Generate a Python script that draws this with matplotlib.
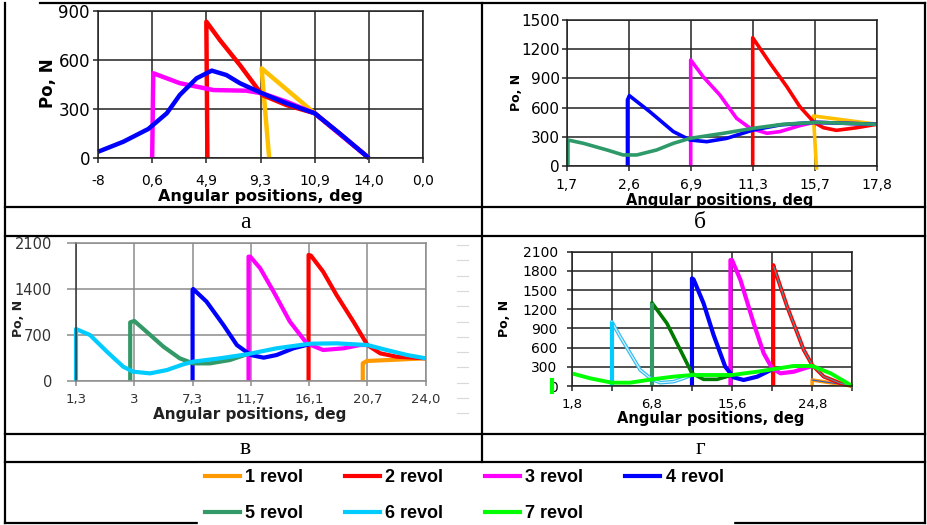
import numpy as np
import matplotlib
matplotlib.use('Agg')
import matplotlib.pyplot as plt
from matplotlib.lines import Line2D
from matplotlib.patches import Rectangle

plt.rcParams['font.family'] = ['DejaVu Sans']

W, H = 927, 525

# colours of the revolutions
COLORS = {1: '#FF9900', 2: '#FF0000', 3: '#FF00FF', 4: '#0000FF',
          5: '#339966', 6: '#00CCFF', 7: '#00FF00'}
GOLD = '#FFC000'

# ---- panel a ----
a_ticks = ['-8', '0,6', '4,9', '9,3', '10,9', '14,0', '0,0']
a_r1_x = [3.16, 3.02, 4.0, 5.0]
a_r1_y = [0, 549, 274, 0]
a_r2_x = [2.02, 2.0, 2.25, 2.62, 3.03, 3.48, 4.0, 5.0]
a_r2_y = [0, 835, 722, 569, 386, 324, 274, 0]
a_r3_x = [1.0, 1.02, 1.51, 2.13, 2.74, 3.03, 3.48, 4.0, 5.0]
a_r3_y = [0, 519, 458, 416, 412, 396, 345, 274, 0]
a_r4_x = [0.0, 0.47, 0.93, 1.27, 1.51, 1.82, 2.10, 2.37, 2.62, 3.03, 3.48, 4.0, 4.46, 5.0]
a_r4_y = [38, 100, 178, 274, 386, 488, 535, 508, 458, 396, 335, 274, 151, 0]

# ---- panel b ----
b_ticks = ['1,7', '2,6', '6,9', '11,3', '15,7', '17,8']
b_r1_x = [4.03, 3.98, 5.0]
b_r1_y = [-35, 515, 430]
b_r2_x = [3.0, 3.0, 3.28, 3.55, 3.76, 3.99, 4.14, 4.35, 4.68, 5.0]
b_r2_y = [0, 1316, 1054, 815, 610, 450, 395, 368, 395, 430]
b_r3_x = [2.0, 2.0, 2.20, 2.47, 2.74, 2.96, 3.23, 3.44, 3.76, 3.99, 5.0]
b_r3_y = [0, 1088, 917, 730, 491, 389, 338, 355, 416, 450, 430]
b_r4_x = [0.98, 0.98, 1.01, 1.34, 1.72, 1.99, 2.26, 2.58, 3.01, 3.44, 3.99, 5.0]
b_r4_y = [0, 679, 723, 559, 355, 269, 252, 286, 372, 423, 450, 430]
b_r5_x = [0.02, 0.02, 0.27, 0.65, 0.91, 1.13, 1.45, 1.72, 1.99, 2.53, 3.01, 3.49, 4.03, 5.0]
b_r5_y = [0, 269, 235, 167, 116, 116, 167, 235, 286, 338, 389, 430, 450, 430]

# ---- panel v ----
v_ticks = ['1,3', '3', '7,3', '11,7', '16,1', '20,7', '24,0']
v_r1_x = [4.92, 4.92, 4.99, 6.0]
v_r1_y = [0, 265, 301, 342]
v_r2_x = [3.99, 3.99, 4.03, 4.24, 4.47, 4.76, 5.0, 5.22, 5.50, 6.0]
v_r2_y = [0, 1922, 1912, 1667, 1310, 902, 545, 418, 367, 342]
v_r3_x = [2.96, 2.96, 2.99, 3.16, 3.39, 3.67, 3.96, 4.24, 4.59, 4.87, 5.0]
v_r3_y = [0, 1896, 1896, 1718, 1361, 902, 571, 469, 495, 545, 545]
v_r4_x = [2.0, 2.0, 2.01, 2.24, 2.53, 2.76, 3.0, 3.22, 3.44, 3.73, 4.0]
v_r4_y = [0, 1387, 1402, 1208, 851, 545, 392, 352, 392, 495, 556]
v_r5_x = [0.93, 0.93, 1.0, 1.21, 1.50, 1.78, 2.01, 2.30, 2.64, 2.93]
v_r5_y = [0, 892, 913, 749, 520, 342, 265, 265, 316, 403]
v_r6_x = [0.0, 0.0, 0.24, 0.53, 0.81, 0.98, 1.27, 1.56, 1.84, 2.01, 2.47, 2.93,
          3.44, 4.02, 4.47, 5.0, 5.33, 5.68, 6.0]
v_r6_y = [0, 790, 698, 444, 214, 138, 112, 163, 250, 291, 342, 403,
          495, 566, 571, 545, 469, 393, 342]

# ---- panel g ----
g_ticks = ['1,8', '', '6,8', '', '15,6', '', '24,8', '']
g_r1_x = [6.0, 6.0, 7.0]
g_r1_y = [0, 94, 0]
g_r2_x = [5.03, 5.03, 5.04, 5.375, 5.79, 6.0, 6.29, 6.71, 7.0]
g_r2_y = [0, 1891, 1865, 1240, 563, 328, 146, 42, 0]
g_r3_x = [3.96, 3.96, 4.0, 4.21, 4.54, 4.79, 5.0, 5.21, 5.54, 6.0]
g_r3_y = [0, 1969, 1969, 1657, 979, 511, 276, 198, 224, 313]
g_r4_x = [3.0, 3.0, 3.04, 3.29, 3.54, 3.83, 4.04, 4.29, 4.63, 5.0]
g_r4_y = [0, 1683, 1667, 1292, 797, 302, 135, 94, 146, 260]
g_r5_x = [2.0, 2.0, 2.375, 2.71, 3.0, 3.29, 3.63, 4.0]
g_r5_y = [0, 1302, 980, 563, 198, 104, 104, 172]
g_r6_x = [1.0, 1.0, 1.21, 1.46, 1.71, 2.0, 2.21, 2.54, 2.79, 3.0]
g_r6_y = [0, 1005, 771, 511, 250, 104, 52, 68, 120, 172]
g_r7_x = [0, 0.46, 1.0, 1.46, 2.0, 2.54, 3.0, 4.0, 4.63, 5.0, 5.54, 6.0, 6.46, 7.0]
g_r7_y = [198, 120, 52, 52, 104, 146, 172, 172, 224, 260, 313, 313, 198, 0]

legend_labels = ['1 revol', '2 revol', '3 revol', '4 revol', '5 revol', '6 revol', '7 revol']


def fx(px):
    return px / W


def fy(py):
    return 1 - py / H


def add_axes(x0, y0, x1, y1):
    return fig.add_axes([fx(x0), fy(y1), (x1 - x0) / W, (y1 - y0) / H])


def style(ax, ticks, ymax, ystep, gc, fsx, fsy, xpad, ypad, tlen=3.6, tc='black'):
    ax.set_xlim(0, len(ticks) - 1)
    ax.set_ylim(0, ymax)
    ax.set_xticks(range(len(ticks)))
    ax.set_xticklabels(ticks)
    ax.set_yticks(np.arange(0, ymax + 1, ystep))
    ax.grid(True, color=gc, lw=1.1)
    ax.set_axisbelow(True)
    ax.tick_params(axis='x', direction='out', length=3.6, width=1.1, color=gc,
                   labelsize=fsx, pad=xpad, labelcolor=tc)
    ax.tick_params(axis='y', direction='out', length=tlen, width=1.1, color=gc,
                   labelsize=fsy, pad=ypad, labelcolor=tc)
    for s in ax.spines.values():
        s.set_color(gc)
        s.set_linewidth(1.1)


def line(ax, x, y, c, lw):
    ax.plot(x, y, color=c, lw=lw, solid_joinstyle='round', solid_capstyle='butt',
            clip_on=False)


def fig_hline(y, x0, x1, lw=1.6, c='black'):
    fig.add_artist(Line2D([fx(x0), fx(x1)], [fy(y), fy(y)], color=c, lw=lw))


def fig_vline(x, y0, y1, lw=1.6, c='black'):
    fig.add_artist(Line2D([fx(x), fx(x)], [fy(y0), fy(y1)], color=c, lw=lw))


fig = plt.figure(figsize=(W / 100, H / 100), dpi=100)

# table frame
fig_hline(3, 40, 925)
fig_hline(207, 5, 925)
fig_hline(236, 5, 925)
fig_hline(434, 5, 925)
fig_hline(462, 5, 925)
fig_hline(523, 5, 925)
fig_vline(5, 3, 523)
fig_vline(925, 3, 523)
fig_vline(482, 3, 462)

# panel a
ax = add_axes(98, 11, 423, 158)
style(ax, a_ticks, 900, 300, '#222222', 10, 12, 8, 2.2)
line(ax, a_r1_x, a_r1_y, GOLD, 3.2)
line(ax, a_r2_x, a_r2_y, COLORS[2], 3.2)
line(ax, a_r3_x, a_r3_y, COLORS[3], 3.2)
line(ax, a_r4_x, a_r4_y, COLORS[4], 3.2)
fig.text(fx(260), fy(197), 'Angular positions, deg', fontsize=11.5, fontweight='bold',
         ha='center', va='center')
fig.text(fx(48), fy(83), 'Po, N', fontsize=12, fontweight='bold', rotation=90,
         ha='center', va='center')

# panel b
ax = add_axes(566.7, 19.7, 876.7, 166.3)
style(ax, b_ticks, 1500, 300, '#222222', 10, 11, 5, 1.5)
line(ax, b_r1_x, b_r1_y, GOLD, 2.6)
line(ax, b_r2_x, b_r2_y, COLORS[2], 2.6)
line(ax, b_r3_x, b_r3_y, COLORS[3], 2.6)
line(ax, b_r4_x, b_r4_y, COLORS[4], 2.6)
line(ax, b_r5_x, b_r5_y, '#2E9A6A', 2.6)
fig.text(fx(720), fy(200), 'Angular positions, deg', fontsize=10.5, fontweight='bold',
         ha='center', va='center')
fig.text(fx(517), fy(92), 'Po, N', fontsize=9, fontweight='bold', rotation=90,
         ha='center', va='center')

# panel v
ax = add_axes(76, 243.3, 425.7, 380.7)
style(ax, v_ticks, 2100, 700, '#8C8C8C', 9.5, 10.5, 5.1, 10.8, tlen=6.5, tc='#333333')
ax.spines['left'].set_color('#333333')
line(ax, v_r1_x, v_r1_y, COLORS[1], 3)
line(ax, v_r2_x, v_r2_y, COLORS[2], 3)
line(ax, v_r3_x, v_r3_y, COLORS[3], 3)
line(ax, v_r4_x, v_r4_y, COLORS[4], 3)
line(ax, v_r5_x, v_r5_y, COLORS[5], 3)
line(ax, v_r6_x, v_r6_y, COLORS[6], 3)
fig.text(fx(250), fy(415), 'Angular positions, deg', fontsize=11, fontweight='bold',
         ha='center', va='center', color='#222222')
fig.text(fx(19), fy(318), 'Po, N', fontsize=9, fontweight='bold', rotation=90,
         ha='center', va='center', color='#222222')
# leftover ticks of a hidden axis to the right of the chart
for yy in np.arange(245, 420, 15.3):
    fig_hline(yy, 457, 468, lw=0.8, c='#D9D9D9')

# panel g
ax = add_axes(571.7, 251.7, 852.3, 386)
style(ax, g_ticks, 2100, 300, '#222222', 9.5, 10, 4.9, 6.5)
line(ax, g_r1_x, g_r1_y, COLORS[1], 2.6)
ax.plot(g_r1_x[1:], g_r1_y[1:], color='#3355CC', lw=0.8, clip_on=False)
line(ax, g_r2_x, g_r2_y, COLORS[2], 2.8)
ax.plot(g_r2_x[2:], g_r2_y[2:], color='#4F8F9A', lw=0.9, clip_on=False)
line(ax, g_r3_x, g_r3_y, COLORS[3], 3)
line(ax, g_r4_x, g_r4_y, COLORS[4], 3)
line(ax, g_r5_x, g_r5_y, '#007A00', 2.6)
line(ax, g_r5_x[:2], g_r5_y[:2], COLORS[5], 3)
line(ax, g_r6_x, g_r6_y, '#33BBEE', 2.6)
ax.plot(g_r6_x[1:], g_r6_y[1:], color='#D8F4FF', lw=0.9, clip_on=False)
line(ax, g_r6_x[:2], g_r6_y[:2], COLORS[6], 3)
line(ax, g_r7_x, g_r7_y, COLORS[7], 2.8)
fig_vline(551.5, 380, 392, lw=3, c=COLORS[7])
fig.text(fx(711), fy(419), 'Angular positions, deg', fontsize=10.5, fontweight='bold',
         ha='center', va='center')
fig.text(fx(504), fy(318), 'Po, N', fontsize=9, fontweight='bold', rotation=90,
         ha='center', va='center')

# panel letters
serif = ['Liberation Serif', 'DejaVu Serif']
for px, py, s in [(245, 222, 'а'), (700, 222, 'б'), (245, 449, 'в'), (700, 449, 'г')]:
    fig.text(fx(px), fy(py), s, fontsize=17, family=serif, ha='center', va='center')

# legend
fig.add_artist(Rectangle((fx(198), 0), fx(733) - fx(198), fy(464), color='white',
                         transform=fig.transFigure, zorder=3))
handles = [Line2D([], [], color=COLORS[i], lw=3) for i in range(1, 8)]
order = [0, 4, 1, 5, 2, 6, 3]
leg = fig.legend([handles[i] for i in order], [legend_labels[i] for i in order],
                 ncol=4, loc='upper left', bbox_to_anchor=(fx(205), fy(469)),
                 frameon=False, handlelength=1.94, handletextpad=0.28,
                 columnspacing=2.33, labelspacing=1.07, borderpad=0, borderaxespad=0,
                 prop={'family': ['Liberation Sans', 'DejaVu Sans'],
                       'weight': 'bold', 'size': 13})
leg.set_zorder(4)

fig.savefig('out.png', dpi=100)
